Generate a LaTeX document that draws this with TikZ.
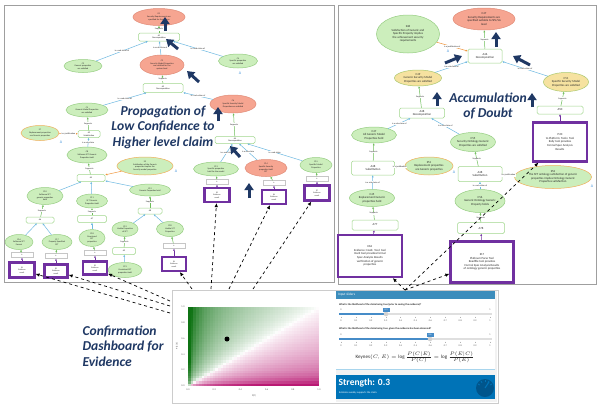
\documentclass[tikz,border=0pt]{standalone}
\usepackage{fontspec}
\setmainfont{Carlito}
\usetikzlibrary{shapes.geometric,arrows.meta,calc}
\definecolor{gellf}{RGB}{204,238,188}
\definecolor{gellb}{RGB}{150,205,130}
\definecolor{sellf}{RGB}{246,165,145}
\definecolor{sellb}{RGB}{225,140,120}
\definecolor{yellf}{RGB}{246,226,160}
\definecolor{yellb}{RGB}{170,200,110}
\definecolor{oellb}{RGB}{240,175,90}
\definecolor{rboxb}{RGB}{160,215,140}
\definecolor{purp}{RGB}{112,48,160}
\definecolor{navyc}{RGB}{31,56,100}
\definecolor{barc}{RGB}{110,185,225}
\definecolor{garc}{RGB}{110,190,90}
\definecolor{oarc}{RGB}{240,150,60}
\definecolor{hgreen}{RGB}{15,115,20}
\definecolor{hpink}{RGB}{185,25,115}
\definecolor{hdrblue}{RGB}{60,141,188}
\definecolor{sldblue}{RGB}{70,140,200}
\definecolor{strblue}{RGB}{0,115,183}
\definecolor{gaugeb}{RGB}{0,85,140}
\definecolor{txtc}{RGB}{40,40,40}
\definecolor{amark}{RGB}{70,150,220}
\begin{document}
\begin{tikzpicture}[x=1pt,y=-1pt,
  gell/.style={ellipse,draw=gellb,fill=gellf,line width=0.5pt,inner sep=0pt,align=center,text=txtc,font=\fontsize{2.2}{2.6}\selectfont},
  sell/.style={gell,draw=sellb,fill=sellf},
  yell/.style={gell,draw=yellb,fill=yellf},
  oell/.style={gell,draw=oellb},
  rbox/.style={rectangle,rounded corners=1.5pt,draw=rboxb,fill=white,line width=0.5pt,inner sep=0pt,align=center,text=txtc,font=\fontsize{2.2}{2.6}\selectfont},
  srect/.style={rectangle,draw=gray!45,fill=white,line width=0.4pt,inner sep=0pt,minimum width=22pt,minimum height=5pt,font=\fontsize{1.8}{2}\selectfont,text=txtc},
  pbox/.style={rectangle,draw=purp,fill=white,line width=2.2pt,inner sep=0pt,align=center,text=txtc,font=\fontsize{2}{2.4}\selectfont},
  gar/.style={draw=garc,line width=0.5pt,-{Latex[length=2pt,width=2pt]}},
  bar/.style={draw=barc,line width=0.5pt,-{Latex[length=2pt,width=2pt]}},
  oar/.style={draw=oarc,line width=0.5pt,-{Latex[length=2pt,width=2pt]}},
  purar/.style={draw=purp,line width=0.5pt,-{Latex[length=2pt,width=2pt]}},
  navyarr/.style={draw=navyc,line width=3pt,-{Triangle[length=7pt,width=9pt]}},
  dar/.style={dashed,draw=black,line width=0.7pt,-{Latex[length=4pt,width=3.5pt]}},
  ttl/.style={text=navyc,align=center,font=\fontsize{13.6}{15.5}\selectfont\bfseries\itshape},
  lbl/.style={font=\fontsize{2.2}{2.6}\selectfont,text=txtc,inner sep=0.4pt,fill=white},
  amk/.style={font=\fontsize{4}{4}\selectfont,text=amark,inner sep=0pt},
  tk/.style={font=\fontsize{2.4}{2.6}\selectfont,text=gray!70!black,inner sep=0pt}
]
\useasboundingbox (0,0) rectangle (598,408);
\fill[white] (0,0) rectangle (598,408);

% ---------------- panels ----------------
\draw[gray!75,line width=0.9pt] (4,5) rectangle (334,282);
\draw[gray!75,line width=0.9pt] (338,5) rectangle (596,284);

% ---------------- left panel nodes ----------------
\node[sell,minimum width=52pt,minimum height=17pt] (L1) at (159,17) {G1\\Security Requirements are\\specified for the system};
\node[rbox,minimum width=41pt,minimum height=8pt] (R1) at (159,37) {A1\\Decomposition};
\node[gell,minimum width=38pt,minimum height=13pt] (L2) at (83,66) {C2\\Generic properties\\are satisfied};
\node[sell,minimum width=44pt,minimum height=20pt] (L3) at (162,65) {C3\\Security Model Properties\\are satisfied for the\\system level};
\node[gell,minimum width=39pt,minimum height=14pt] (L4) at (238,61) {C4\\Specific properties\\are satisfied};
\node[rbox,minimum width=40pt,minimum height=9pt] (R2) at (163,88) {A2\\Decomposition};
\node[gell,minimum width=42pt,minimum height=14pt] (L5) at (87,110) {C5\\Generic Model Properties\\are satisfied};
\node[sell,minimum width=46pt,minimum height=18pt] (L6) at (233,104) {C6\\Specific Security Model\\Properties are satisfied};
\node[rbox,minimum width=22pt,minimum height=7pt] (R3) at (89,134) {A3\\Substitution};
\node[oell,minimum width=38pt,minimum height=15pt] (L7) at (40,133) {S7\\Replacement properties\\are Generic properties};
\node[rbox,minimum width=40pt,minimum height=7pt] (R4) at (235,140) {A4\\Decomposition};
\node[gell,minimum width=40pt,minimum height=16pt] (L8) at (87,155) {C8\\Software SFT Generic\\Properties hold};
\node[oell,minimum width=56pt,minimum height=18pt] (L9) at (145,166) {S9\\Satisfaction of the Generic\\properties implies the\\Security model properties};
\node[rbox,minimum width=28pt,minimum height=7pt] (R5) at (91,178) {A5};
\node[gell,minimum width=36pt,minimum height=17pt] (L10) at (45,196) {C10\\Software SFT\\generic properties\\hold};
\node[gell,minimum width=31pt,minimum height=14pt] (L11) at (92,201) {C11\\SFT Generic\\Properties hold};
\node[gell,minimum width=41pt,minimum height=12pt] (L12) at (150,190) {C12\\Generic Properties hold};
\node[gell,minimum width=45pt,minimum height=14pt] (L13) at (216,169) {C13\\Specific properties\\hold for the model};
\node[sell,minimum width=42pt,minimum height=17pt] (L14) at (266,168) {C14\\Specific Security\\properties hold\\SFT};
\node[gell,minimum width=32pt,minimum height=15pt] (L15) at (316,165) {C15\\Specific Model\\Properties};
\node[rbox,minimum width=28pt,minimum height=6pt] (R6) at (40,220) {A6};
\node[rbox,minimum width=29pt,minimum height=7pt] (R7) at (92,219) {A7};
\node[rbox,minimum width=24pt,minimum height=6pt] (R8) at (150,211) {A8};
\node[gell,minimum width=28pt,minimum height=15pt] (L16) at (19,242) {C16\\Software SFT\\Format};
\node[gell,minimum width=30pt,minimum height=15pt] (L17) at (57,242) {C17\\Properly Specified\\SFT};
\node[gell,minimum width=26pt,minimum height=17pt] (L18) at (92,238) {C18\\Structured\\SFT\\properties};
\node[gell,minimum width=26pt,minimum height=15pt] (L19) at (125,229) {C19\\Usable Properties\\of SFT};
\node[gell,minimum width=27pt,minimum height=15pt] (L20) at (170,229) {C20\\Usable SFT\\Properties};
\node[rbox,minimum width=23pt,minimum height=7pt] (R9) at (124,251) {A9};
\node[gell,minimum width=34pt,minimum height=15pt] (L21) at (125,270) {C21\\Consistent SFT\\properties hold};

\node[srect] (S1) at (22,255) {A};
\node[srect] (S2) at (56,256) {A};
\node[srect] (S3) at (95,253) {A};
\node[srect] (S4) at (174,246) {A};
\node[srect] (S5) at (217,182) {A};
\node[srect] (S6) at (274,183) {A};
\node[srect] (S7) at (317,179) {A};

\node[pbox,minimum width=25pt,minimum height=15pt] (P1) at (22,270) {E1\\Evidence\\result};
\node[pbox,minimum width=23pt,minimum height=13pt] (P2) at (56,271) {E2\\Evidence\\result};
\node[pbox,minimum width=24pt,minimum height=13pt] (P3) at (95,268) {E3\\Evidence\\result};
\node[pbox,minimum width=24pt,minimum height=14pt] (P4) at (174,264) {E4\\Evidence\\result};
\node[pbox,minimum width=25pt,minimum height=14pt] (P5) at (217,195) {E5\\Evidence\\result};
\node[pbox,minimum width=24pt,minimum height=14pt] (P6) at (274,197) {E6\\Evidence\\result};
\node[pbox,minimum width=25pt,minimum height=15pt] (P7) at (317,193) {E7\\Evidence\\result};

% left edges
\draw[gar] (R1) -- node[lbl]{Supports} (L1);
\draw[bar] (L2) -- node[lbl]{is a sub-claim of} (R1);
\draw[bar] (L3) -- node[lbl]{is a sub-claim of} (R1);
\draw[bar] (L4) -- node[lbl]{is a sub-claim of} (R1);
\draw[gar] (R2) -- node[lbl]{Supports} (L3);
\draw[bar] (L5) -- node[lbl]{is a sub-claim of} (R2);
\draw[bar] (L6) -- node[lbl]{is a sub-claim of} (R2);
\draw[gar] (R3) -- node[lbl]{Supports} (L5);
\draw[oar] (L7) -- node[lbl]{is a justification} (R3);
\draw[bar] (L8) -- node[lbl]{is a sub-claim} (R3);
\draw[gar] (R5) -- node[lbl]{Supports} (L8);
\draw[oar] (L9) -- (R5);
\draw[bar] (L10) -- (R5);
\draw[bar] (L11) -- (R5);
\draw[bar] (L12) -- (R5);
\draw[gar] (R4) -- node[lbl]{Supports} (L6);
\draw[bar] (L13) -- node[lbl]{is a sub-claim} (R4);
\draw[bar] (L14) -- node[lbl]{is a sub-claim} (R4);
\draw[bar] (L15) -- node[lbl]{is a sub-claim} (R4);
\draw[gar] (R6) -- node[lbl]{Supports} (L10);
\draw[bar] (L16) -- (R6);
\draw[bar] (L17) -- (R6);
\draw[gar] (R7) -- node[lbl]{Supports} (L11);
\draw[bar] (L18) -- (R7);
\draw[gar] (R8) -- node[lbl]{Supports} (L12);
\draw[bar] (L19) -- (R8);
\draw[bar] (L20) -- (R8);
\draw[gar] (R9) -- node[lbl]{Supports} (L19);
\draw[bar] (L21) -- (R9);
\draw[gar] (S1) -- (L16);
\draw[gar] (S2) -- (L17);
\draw[gar] (S3) -- (L18);
\draw[gar] (S4) -- (L20);
\draw[gar] (S5) -- (L13);
\draw[gar] (S6) -- (L14);
\draw[gar] (S7) -- (L15);
\draw[purar] (P1) -- (S1);
\draw[purar] (P2) -- (S2);
\draw[purar] (P3) -- (S3);
\draw[purar] (P4) -- (S4);
\draw[purar] (P5) -- (S5);
\draw[purar] (P6) -- (S6);
\draw[purar] (P7) -- (S7);

\node[amk] (AM1) at (61,142) {A};
\node[amk] (AM2) at (176,171) {A};
\node[amk] (AM3) at (240,73) {A};

% ---------------- right panel nodes ----------------
\node[sell,minimum width=62pt,minimum height=22pt,font=\fontsize{3}{3.5}\selectfont] (RC47) at (484,19) {C47\\Security Requirements are\\specified suitable to SPL/SA\\level};
\node[gell,minimum width=63pt,minimum height=38pt,font=\fontsize{3}{3.5}\selectfont] (RS48) at (408,34) {S48\\Satisfaction of Generic and\\Specific Property implies\\the achievement security\\requirements};
\node[rbox,minimum width=34pt,minimum height=14pt,font=\fontsize{3}{3.5}\selectfont] (RA46) at (485,56) {A46\\Decomposition};
\node[yell,minimum width=47pt,minimum height=16pt,font=\fontsize{3}{3.5}\selectfont] (RC49) at (418,78) {C49\\Generic Security Model\\Properties are satisfied};
\node[yell,minimum width=45pt,minimum height=19pt,font=\fontsize{3}{3.5}\selectfont] (RC51) at (566,82) {C51\\Specific Security Model\\Properties are satisfied};
\node[rbox,minimum width=45pt,minimum height=10pt,font=\fontsize{3}{3.5}\selectfont] (RA48) at (422,113) {A48\\Decomposition};
\node[rbox,minimum width=46pt,minimum height=8pt,font=\fontsize{3}{3.5}\selectfont] (RA50) at (560,110) {A50};
\node[pbox,minimum width=54pt,minimum height=39pt,font=\fontsize{3}{3.6}\selectfont] (RP20) at (560,142) {P20\\to Platform: Tools: Tool\\Rally tool provides\\Formal Spec Analysis\\Results};
\node[gell,minimum width=45pt,minimum height=16pt,font=\fontsize{3}{3.5}\selectfont] (RC47b) at (374,135) {C47\\All Generic Model\\Properties hold};
\node[gell,minimum width=40pt,minimum height=19pt,font=\fontsize{3}{3.5}\selectfont] (RC55) at (473,142) {C55\\Security Ontology Generic\\Properties are satisfied};
\node[rbox,minimum width=43pt,minimum height=14pt,font=\fontsize{3}{3.5}\selectfont] (RA48s) at (373,168) {A48\\Substitution};
\node[oell,minimum width=48pt,minimum height=18pt,font=\fontsize{3}{3.5}\selectfont] (RS51) at (429,166) {S51\\Replacement properties\\are Generic properties};
\node[gell,minimum width=45pt,minimum height=17pt,font=\fontsize{3}{3.5}\selectfont] (RC45) at (372,198) {C45\\Replacement Generic\\properties hold};
\node[rbox,minimum width=46pt,minimum height=10pt,font=\fontsize{3}{3.5}\selectfont] (RA77) at (375,225) {A77};
\node[pbox,minimum width=64pt,minimum height=42pt,font=\fontsize{3}{3.6}\selectfont] (RE62) at (370,256) {E62\\Evidence: Hazit. Tool: tool\\Hazit tool provides formal\\Spec Analysis Results\\verification of generic\\properties};
\node[rbox,minimum width=44pt,minimum height=15pt,font=\fontsize{3}{3.5}\selectfont] (RA48b) at (480,174) {A48\\Substitution};
\node[oell,minimum width=77pt,minimum height=23pt,font=\fontsize{3}{3.5}\selectfont] (RS52) at (553,177) {S52\\The SFT ontology satisfaction of generic\\properties implies Ontology Generic\\Properties satisfaction};
\node[gell,minimum width=50pt,minimum height=23pt,font=\fontsize{3}{3.5}\selectfont] (RC56) at (480,201) {C56\\Generic Ontology Generic\\Property holds};
\node[rbox,minimum width=47pt,minimum height=11pt,font=\fontsize{3}{3.5}\selectfont] (RA78) at (481,228) {A78};
\node[pbox,minimum width=63pt,minimum height=41pt,font=\fontsize{3}{3.6}\selectfont] (RE17) at (482,262) {E17\\Platinum Parse Tool\\Readfile tool provides\\Formal Spec Analysis Results\\of ontology generic properties};

\draw[gar] (RA46) -- node[lbl]{Supports} (RC47);
\draw[oar] (RS48) -- node[lbl]{is a justification of} (RA46);
\draw[bar] (RC49) -- node[lbl]{is a sub-claim of} (RA46);
\draw[bar] (RC51) -- node[lbl]{is a sub-claim of} (RA46);
\draw[gar] (RA48) -- node[lbl]{Supports} (RC49);
\draw[bar] (RC47b) -- node[lbl]{is a sub-claim of} (RA48);
\draw[bar] (RC55) -- node[lbl]{is a sub-claim of} (RA48);
\draw[gar] (RA50) -- node[lbl]{Supports} (RC51);
\draw[purar] (RP20) -- (RA50);
\draw[gar] (RA48s) -- node[lbl]{Supports} (RC47b);
\draw[oar] (RS51) -- node[lbl]{is a justification} (RA48s);
\draw[bar] (RC45) -- node[lbl]{is a sub-claim of} (RA48s);
\draw[gar] (RA77) -- node[lbl]{Supports} (RC45);
\draw[purar] (RE62) -- (RA77);
\draw[gar] (RA48b) -- node[lbl]{Supports} (RC55);
\draw[oar] (RS52) -- node[lbl]{is a justification} (RA48b);
\draw[bar] (RC56) -- node[lbl]{is a sub-claim of} (RA48b);
\draw[gar] (RA78) -- node[lbl]{Supports} (RC56);
\draw[purar] (RE17) -- (RA78);

\node[amk] (AM4) at (448,51) {A};
\node[amk] (AM5) at (454,172) {A};
\node[amk] (AM6) at (592,186) {A};

% ---------------- navy arrows ----------------
\foreach \n/\sx/\sy/\ex/\ey in {1/165/31/165/17, 2/178/49/166/39, 3/199/82/187/71, 4/218/121/218/107, 5/240/157/230/146, 6/249/198/249/183, 7/445/63/462/56, 8/530/65/513/56, 9/496/47/496/32, 10/437/106/437/92, 11/532/107/532/93}{
  \coordinate (nas\n) at (\sx,\sy);
  \coordinate (nae\n) at (\ex,\ey);
  \draw[navyarr] (nas\n) -- (nae\n);
}

% ---------------- titles ----------------
\node[ttl] (T1) at (163,127) {Propagation of\\Low Confidence to\\Higher level claim};
\node[ttl] (T2) at (488,106) {Accumulation\\of Doubt};
\node[ttl,align=left,anchor=west] (T3) at (79,346) {Confirmation\\Dashboard for\\Evidence};

% ---------------- dashboard ----------------
\draw[gray!40,line width=0.8pt,fill=white] (172,290) rectangle (498,403);
% heatmap
\begin{scope}
\clip (188,307) rectangle (319,386);
\foreach \i in {0,...,47}{
  \foreach \j in {0,...,29}{
    \pgfmathsetmacro{\xv}{(\i+0.5)/48}
    \pgfmathsetmacro{\yv}{(\j+0.5)/30}
    \pgfmathsetmacro{\vv}{ln(\yv/\xv)/2.302585}
    \pgfmathsetmacro{\gp}{min(100,100*pow(abs(\vv)/1.5,0.7))}
    \ifdim\vv pt>0pt \colorlet{cellc}{hgreen!\gp!white}\else\colorlet{cellc}{hpink!\gp!white}\fi
    \fill[cellc] ({188+\i*2.7292},{386-(\j+1)*2.6333}) rectangle ++(3.1,3.0);
  }
}
\end{scope}
\node[circle,fill=black,inner sep=0pt,minimum size=5pt] (dot) at (227,339) {};
\foreach \k/\lab in {0/0.0,1/0.2,2/0.4,3/0.6,4/0.8,5/1.0}{
  \node[tk] (xt\k) at ({188+\k*26.2},390) {\lab};
  \node[tk] (yt\k) at (183,{386-\k*15.8}) {\lab};
}
\node[tk] (xlab) at (254,396) {P(C)};
\node[tk,rotate=90] (ylab) at (177,346) {P(C|E)};

% slider panel
\fill[gray!10] (336,291) rectangle (497,402);
\fill[hdrblue] (336,291) rectangle (495,299);
\node[anchor=west,text=white,font=\fontsize{3.4}{4}\selectfont,inner sep=0pt] (hdr) at (338,295) {Input sliders};
\fill[white] (336,299) rectangle (495,369);
\node[anchor=west,text=txtc,font=\fontsize{2.6}{3}\selectfont\bfseries,inner sep=0pt] (q1) at (339,304.5) {What is the likelihood of the claim being true (prior to seeing the evidence)?};
\node[anchor=west,text=txtc,font=\fontsize{2.6}{3}\selectfont\bfseries,inner sep=0pt] (q2) at (339,329) {What is the likelihood of the claim being true, given the evidence has been observed?};
\foreach \sy/\fx/\val in {314/386/0.3, 339/430/0.6}{
  \node[tk] at (341,\sy-4) {0};
  \node[tk] at (490,\sy-4) {1};
  \fill[gray!25] (339,\sy-0.7) rectangle (492,\sy+0.7);
  \fill[sldblue] (339,\sy-0.8) rectangle (\fx,\sy+0.8);
  \fill[gray!35] (\fx,\sy) circle (2.3);
  \fill[sldblue] (\fx-3.5,\sy-6.5) rectangle (\fx+3.5,\sy-2.5);
  \node[text=white,font=\fontsize{2.2}{2.4}\selectfont,inner sep=0pt] at (\fx,\sy-4.5) {\val};
  \foreach \k/\lab in {0/0,1/0.1,2/0.2,3/0.3,4/0.4,5/0.5,6/0.6,7/0.7,8/0.8,9/0.9,10/1}{
    \draw[gray!60,line width=0.3pt] ({341+\k*14.9},\sy+2.5) -- ({341+\k*14.9},\sy+4);
    \node[tk] at ({341+\k*14.9},\sy+6.5) {\lab};
  }
}
\node[text=txtc,font=\fontsize{5}{6}\selectfont,inner sep=0pt] (formula) at (415,357) {$\mathrm{Keynes}(C,E)=\log\frac{P(C|E)}{P(C)}=\log\frac{P(E|C)}{P(E)}$};
\draw[barc!60,line width=1pt] (336,369) -- (495,369);
\fill[strblue] (336,375) rectangle (495,399);
\node[anchor=west,text=white,font=\fontsize{9.5}{10}\selectfont\bfseries,inner sep=0pt] (str) at (338.5,383) {Strength: 0.3};
\node[anchor=west,text=white,font=\fontsize{2.6}{3}\selectfont,inner sep=0pt] (strsub) at (339,392.5) {Evidence weakly supports the claim.};
\fill[gaugeb] (485,388) circle (9);
\draw[strblue,line width=1pt] (485,388) -- (489,382);
\foreach \a in {150,120,90,60,30}{
  \draw[strblue,line width=0.8pt] ($(485,388)+(\a:-6)$) -- ($(485,388)+(\a:-8)$);
}

% ---------------- dashed connectors ----------------
\coordinate (dl1) at (170,313);
\coordinate (dl2) at (170,306);
\coordinate (dl3) at (170,301);
\coordinate (dt1) at (192,289);
\coordinate (dt2) at (211,289);
\coordinate (dt3) at (229,289);
\coordinate (dt4) at (253,289);
\coordinate (dr) at (405,290);
\draw[dar] (dl1) -- (P1);
\draw[dar] (dl2) -- (P2);
\draw[dar] (dl3) -- (P3);
\draw[dar] (dt1) -- (P4);
\draw[dar] (dt2) -- (P5);
\draw[dar] (dt3) -- (P6);
\draw[dar] (dt4) -- (P7);
\draw[dar] (dr) -- (RE62);
\draw[dar] (dr) -- (RE17);
\draw[dar] (dr) -- (RP20);
\end{tikzpicture}
\end{document}
